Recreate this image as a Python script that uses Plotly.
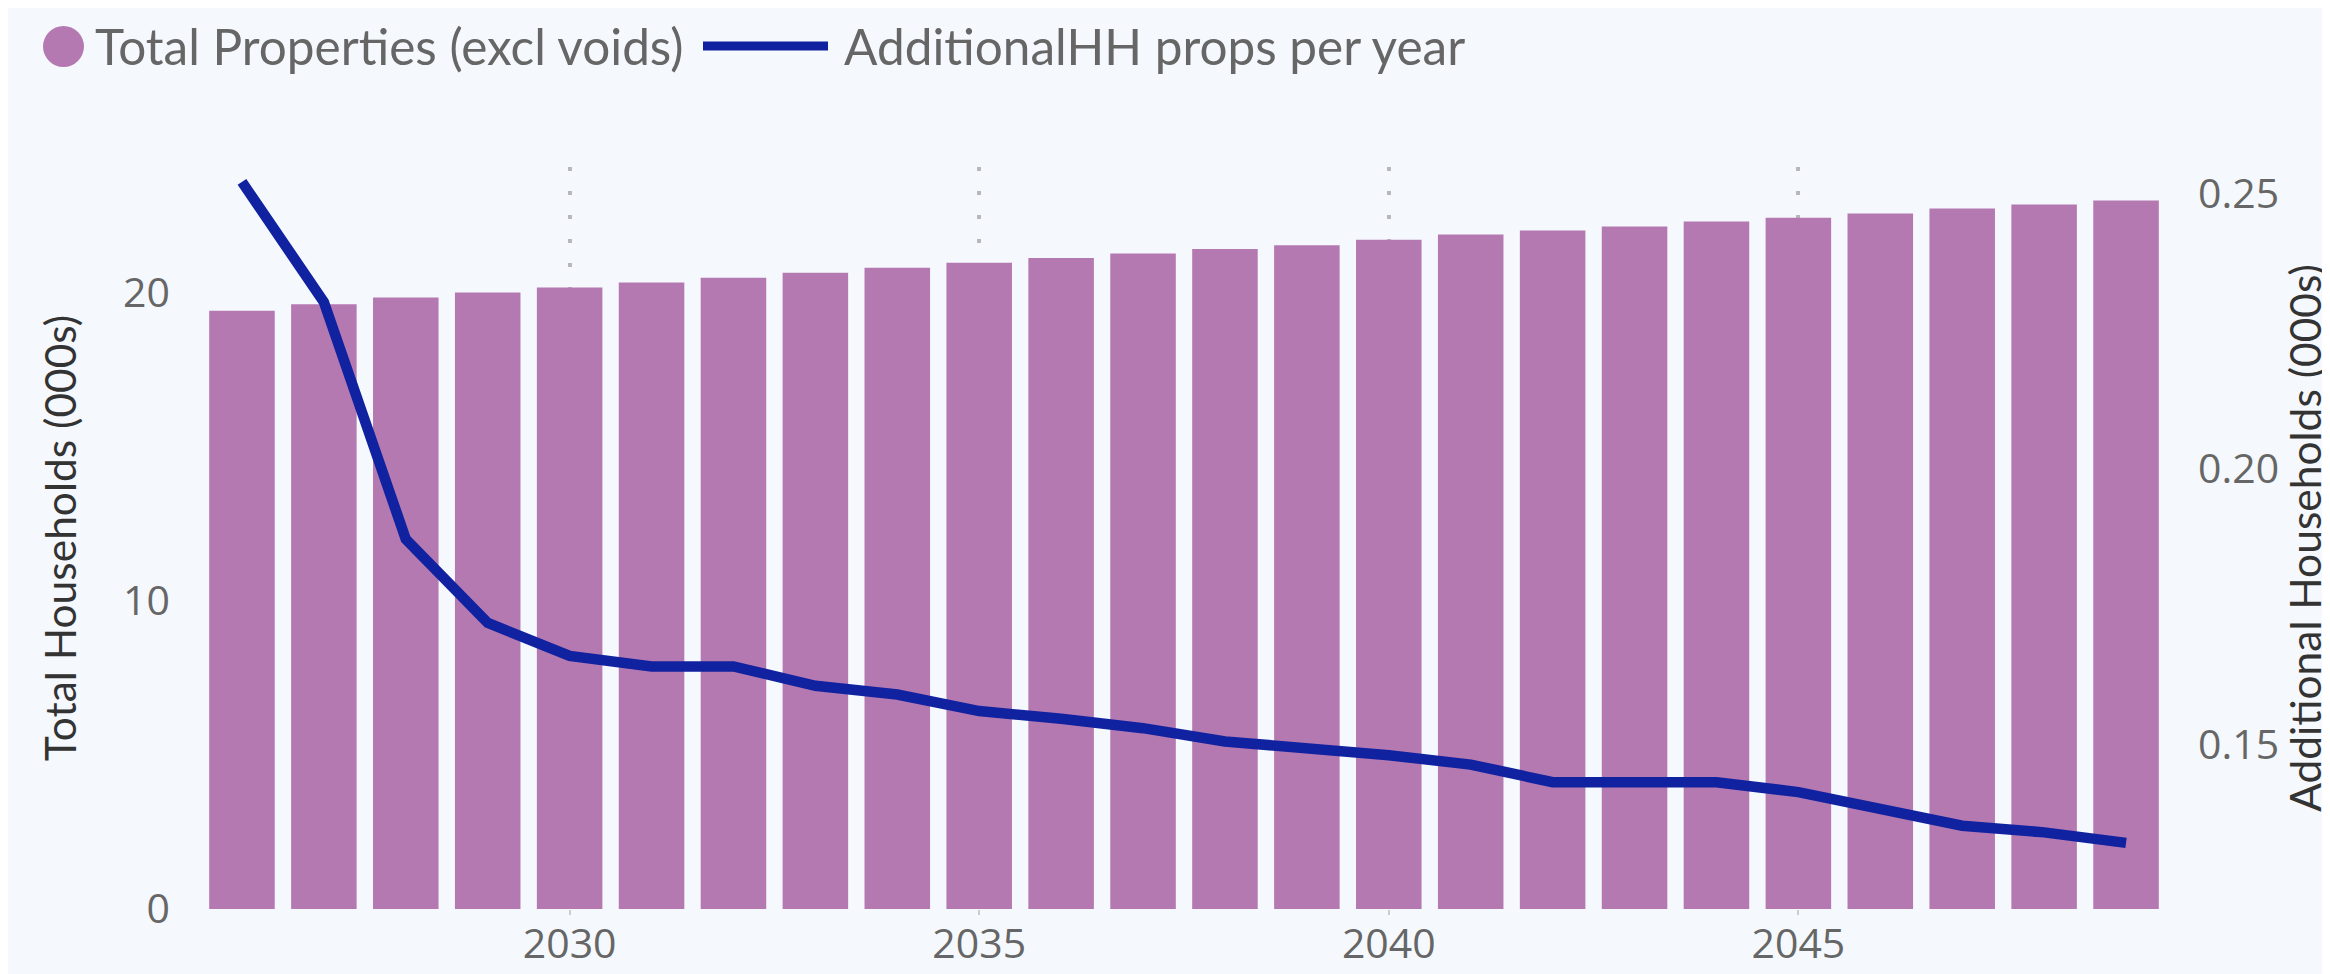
import plotly.graph_objects as go

years = list(range(2026, 2050))
total_props = [19.41, 19.62, 19.84, 20.00, 20.16, 20.32, 20.48, 20.64, 20.80, 20.96,
               21.12, 21.26, 21.41, 21.53, 21.71, 21.88, 22.01, 22.14, 22.30, 22.42,
               22.56, 22.72, 22.85, 22.98]
additional_hh = [0.2521, 0.2303, 0.1873, 0.1721, 0.1661, 0.1642, 0.1642, 0.1607, 0.1591,
                 0.1561, 0.1547, 0.1530, 0.1506, 0.1494, 0.1481, 0.1464, 0.1432, 0.1432,
                 0.1432, 0.1414, 0.1383, 0.1353, 0.1341, 0.1322]
x_ticks = [2030, 2035, 2040, 2045]
left_ticks = [0, 10, 20]
right_ticks = [0.15, 0.20, 0.25]

bar_name = "Total Properties (excl voids)"
line_name = "AdditionalHH props per year"

BAR_COLOR = "#B579B2"
LINE_COLOR = "#1122A0"
BG = "#F5F8FD"
TICK_FONT = dict(family="Open Sans", size=41, color="#666666")
TEXT_FONT = "Lato"

fig = go.Figure()
fig.add_trace(go.Bar(x=years, y=total_props, name=bar_name, marker_color=BAR_COLOR,
                     marker_line_width=0, showlegend=False))
fig.add_trace(go.Scatter(x=years, y=additional_hh, name=line_name, yaxis="y2",
                         mode="lines", line=dict(color=LINE_COLOR, width=10.5),
                         showlegend=False))

# page has an 8px body margin, so the figure is sized to fill the window
W, H = 2322, 966
L, R, T, B = 193, 163, 159, 65

fig.update_layout(
    width=W, height=H,
    margin=dict(l=L, r=R, t=T, b=B, autoexpand=False),
    paper_bgcolor=BG, plot_bgcolor=BG,
    bargap=0.2,
    showlegend=False,
    xaxis=dict(range=[2025.5, 2049.5], tickvals=x_ticks, tickfont=TICK_FONT,
               showgrid=True, gridcolor="#b8b8b8", gridwidth=3.5, griddash="3.5px,20.5px",
               ticks="outside", ticklen=5, tickcolor="#cccccc", tickwidth=2,
               ticklabelstandoff=-6, showline=False, zeroline=False),
    yaxis=dict(range=[0, 24.07], tickvals=left_ticks, tickfont=TICK_FONT,
               showgrid=False, zeroline=False, showline=False,
               ticklabelstandoff=30,
               title=dict(text="Total Households (000s)",
                          font=dict(family=TEXT_FONT, size=42.5, color="#333333"),
                          standoff=33)),
    yaxis2=dict(range=[0.1202, 0.2548], tickvals=right_ticks, tickformat=".2f",
                tickfont=TICK_FONT, overlaying="y", side="right",
                showgrid=False, zeroline=False, showline=False,
                ticklabelstandoff=30,
                title=dict(text="Additional Households (000s)",
                           font=dict(family=TEXT_FONT, size=42.5, color="#333333"),
                           standoff=55)),
)

# Legend drawn at top-left
fig.add_shape(type="circle", xref="paper", yref="paper", xsizemode="pixel", ysizemode="pixel",
              xanchor=0, yanchor=1, x0=-158, x1=-117, y0=100, y1=141,
              fillcolor=BAR_COLOR, line=dict(width=0))
fig.add_shape(type="line", xref="paper", yref="paper", xsizemode="pixel", ysizemode="pixel",
              xanchor=0, yanchor=1, x0=502, x1=627, y0=121, y1=121,
              line=dict(color=LINE_COLOR, width=9))
legend_font = dict(family=TEXT_FONT, size=49.5, color="#666666")
fig.add_annotation(text=bar_name, xref="paper", yref="paper", x=0, y=1,
                   xanchor="left", yanchor="middle", xshift=-108, yshift=121,
                   showarrow=False, font=legend_font)
fig.add_annotation(text=line_name, xref="paper", yref="paper", x=0, y=1,
                   xanchor="left", yanchor="middle", xshift=641, yshift=121,
                   showarrow=False, font=legend_font)

fig.write_html("out.html")
